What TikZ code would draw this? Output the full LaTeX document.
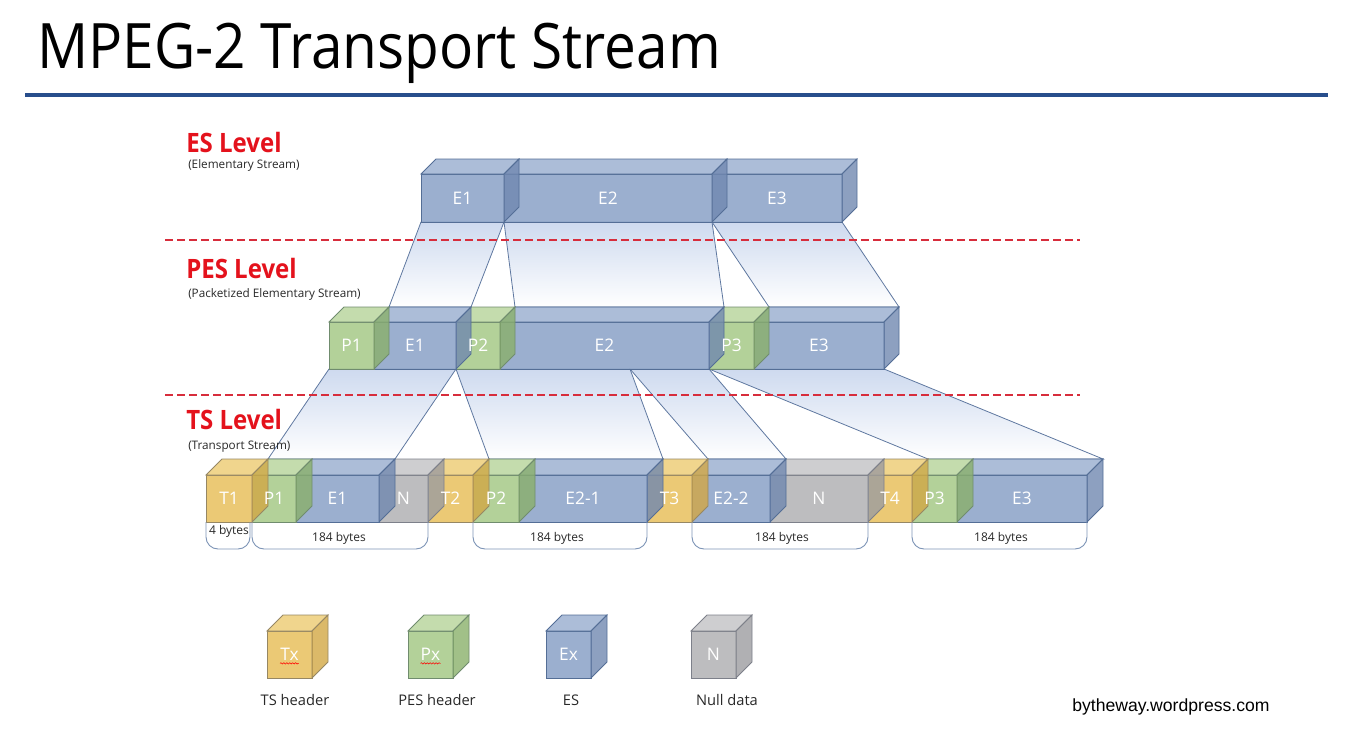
\documentclass[tikz,border=0pt]{standalone}
\usepackage{fontspec}
\setmainfont{Open Sans}
\newfontfamily\arialfont{Liberation Sans}
\usetikzlibrary{calc,decorations.pathmorphing}
\pgfdeclarelayer{bg}
\pgfdeclarelayer{fg}
\pgfsetlayers{bg,main,fg}

\definecolor{blueF}{RGB}{138,162,199}
\definecolor{blueT}{RGB}{158,178,210}
\definecolor{blueS}{RGB}{112,136,176}
\definecolor{blueE}{RGB}{84,110,150}
\definecolor{greenF}{RGB}{166,201,136}
\definecolor{greenT}{RGB}{186,214,160}
\definecolor{greenS}{RGB}{138,176,106}
\definecolor{greenE}{RGB}{112,140,110}
\definecolor{goldF}{RGB}{232,192,94}
\definecolor{goldT}{RGB}{238,206,122}
\definecolor{goldS}{RGB}{210,168,68}
\definecolor{goldE}{RGB}{150,135,100}
\definecolor{grayF}{RGB}{178,178,180}
\definecolor{grayT}{RGB}{198,198,200}
\definecolor{grayS}{RGB}{156,156,160}
\definecolor{grayE}{RGB}{125,128,138}
\definecolor{rulecol}{RGB}{40,78,140}
\definecolor{lvlred}{RGB}{228,18,28}
\definecolor{dashred}{RGB}{215,45,60}
\definecolor{fnTop}{RGB}{206,218,239}
\definecolor{fnMid}{RGB}{186,202,233}
\definecolor{fnEdge}{RGB}{95,120,160}
\definecolor{brkcol}{RGB}{125,148,182}
\definecolor{txtgray}{RGB}{40,40,40}

\tikzset{
  lbl/.style={text=white, font=\fontsize{13}{13}\selectfont, inner sep=1pt},
  funnel/.style={top color=fnTop, middle color=fnMid, bottom color=white, draw=fnEdge, line width=0.6pt},
  dashline/.style={draw=dashred, line width=0.8pt, dash pattern=on 6pt off 3pt},
  brk/.style={draw=brkcol, line width=0.7pt, rounded corners=9pt},
  bytes/.style={text=txtgray, font=\fontsize{9}{9}\selectfont, inner sep=1pt},
  lvl/.style={text=lvlred, font=\bfseries\fontsize{20}{20}\selectfont, anchor=base west, inner sep=0pt},
  sublvl/.style={text=txtgray, font=\fontsize{8.8}{8.8}\selectfont, anchor=base west, inner sep=0pt},
  leg/.style={text=txtgray, font=\fontsize{11}{11}\selectfont, inner sep=1pt},
  squig/.style={draw=red, line width=0.4pt, decorate, decoration={snake, amplitude=0.5pt, segment length=2.2pt}}
}

\newcommand\blk[8]{%
  \coordinate (#1-nw) at (#2,#4);
  \coordinate (#1-ne) at (#3,#4);
  \coordinate (#1-sw) at (#2,#5);
  \coordinate (#1-se) at (#3,#5);
  \coordinate (#1-bnw) at ($(#1-nw)+(#6,-#6)$);
  \coordinate (#1-bne) at ($(#1-ne)+(#6,-#6)$);
  \coordinate (#1-bse) at ($(#1-se)+(#6,-#6)$);
  \filldraw[draw=#7E, fill=#7F, fill opacity=0.86, line width=0.6pt] (#1-nw) rectangle (#1-se);
  \filldraw[draw=#7E, fill=#7T, fill opacity=0.86, line width=0.6pt] (#1-nw) -- (#1-bnw) -- (#1-bne) -- (#1-ne) -- cycle;
  \filldraw[draw=#7E, fill=#7S, fill opacity=0.80, line width=0.6pt] (#1-ne) -- (#1-bne) -- (#1-bse) -- (#1-se) -- cycle;
  \begin{pgfonlayer}{fg}
  \node[lbl] (#1) at ($(#1-nw)!0.5!(#1-se)$) {#8};
  \end{pgfonlayer}
}

\begin{document}
\begin{tikzpicture}[x=0.75pt,y=-0.75pt]
\useasboundingbox (0,0) rectangle (1348,743);

% title and rule
\node[anchor=base west, inner sep=0pt] (title) at (37,68)
  {\fontsize{47}{47}\selectfont\scalebox{0.905}[1]{MPEG-2 Transport Stream}};
\coordinate (ruleA) at (25,95);
\coordinate (ruleB) at (1328,95);
\draw[rulecol, line width=3pt] (ruleA) -- (ruleB);

% level labels
\node[lvl] (esl) at (186,152) {\scalebox{0.9}[1]{ES Level}};
\node[sublvl] (essub) at (188,168) {(Elementary Stream)};
\node[lvl] (pesl) at (186,278) {\scalebox{0.9}[1]{PES Level}};
\node[sublvl] (pessub) at (188,297) {(Packetized Elementary Stream)};
\node[lvl] (tsl) at (186,429) {\scalebox{0.9}[1]{TS Level}};
\node[sublvl] (tssub) at (188,449) {(Transport Stream)};

% ES level (right to left)
\blk{esE3}{712}{842}{174}{222}{15}{blue}{E3}
\blk{esE2}{504}{712}{174}{222}{15}{blue}{E2}
\blk{esE1}{421}{504}{174}{222}{15}{blue}{E1}

% PES level
\blk{pesE3}{754}{884}{322}{369}{15}{blue}{E3}
\blk{pesP3}{709}{754}{322}{369}{15}{green}{P3}
\blk{pesE2}{500}{709}{322}{369}{15}{blue}{E2}
\blk{pesP2}{456}{500}{322}{369}{15}{green}{P2}
\blk{pesE1}{374}{456}{322}{369}{15}{blue}{E1}
\blk{pesP1}{329}{374}{322}{369}{15}{green}{P1}

% TS level
\blk{tsE3}{957}{1087}{475}{522}{16}{blue}{E3}
\blk{tsP3}{912}{957}{475}{522}{16}{green}{P3}
\blk{tsT4}{868}{912}{475}{522}{16}{gold}{T4}
\blk{tsN2}{770}{868}{475}{522}{16}{gray}{N}
\blk{tsE22}{692}{770}{475}{522}{16}{blue}{E2-2}
\blk{tsT3}{647}{692}{475}{522}{16}{gold}{T3}
\blk{tsE21}{519}{647}{475}{522}{16}{blue}{E2-1}
\blk{tsP2}{473}{519}{475}{522}{16}{green}{P2}
\blk{tsT2}{428}{473}{475}{522}{16}{gold}{T2}
\blk{tsN1}{379}{428}{475}{522}{16}{gray}{N}
\blk{tsE1}{296}{379}{475}{522}{16}{blue}{E1}
\blk{tsP1}{252}{296}{475}{522}{16}{green}{P1}
\blk{tsT1}{206}{252}{475}{522}{16}{gold}{T1}

% funnels
\coordinate (split) at (630,369);
\begin{pgfonlayer}{bg}
\shadedraw[funnel] (esE1-sw) -- (esE1-se) -- (pesE1-bne) -- (pesE1-bnw) -- cycle;
\shadedraw[funnel] (esE2-sw) -- (esE2-se) -- (pesE2-bne) -- (pesE2-bnw) -- cycle;
\shadedraw[funnel] (esE3-sw) -- (esE3-se) -- (pesE3-bne) -- (pesE3-bnw) -- cycle;
\shadedraw[funnel] (pesP1-sw) -- (pesE1-se) -- (tsE1-bne) -- (tsP1-bnw) -- cycle;
\shadedraw[funnel] (pesP2-sw) -- (split) -- (tsE21-bne) -- (tsP2-bnw) -- cycle;
\shadedraw[funnel] (split) -- (pesE2-se) -- (tsE22-bne) -- (tsE22-bnw) -- cycle;
\shadedraw[funnel] (pesP3-sw) -- (pesE3-se) -- (tsE3-bne) -- (tsP3-bnw) -- cycle;
\end{pgfonlayer}

% dashed separators
\coordinate (d1a) at (165,240); \coordinate (d1b) at (1080,240);
\coordinate (d2a) at (165,395); \coordinate (d2b) at (1080,395);
\draw[dashline] (d1a) -- (d1b);
\draw[dashline] (d2a) -- (d2b);

% byte brackets
\draw[brk] (tsT1-sw) -- ($(tsT1-sw)+(0,27)$) -- ($(tsT1-se)+(-2,27)$) -- ($(tsT1-se)+(-2,0)$);
\node[bytes] (b4) at (229,531) {4 bytes};
\draw[brk] (tsP1-sw) -- ($(tsP1-sw)+(0,27)$) -- ($(tsN1-se)+(0,27)$) -- (tsN1-se);
\node[bytes] (b184a) at (339,538) {184 bytes};
\draw[brk] (tsP2-sw) -- ($(tsP2-sw)+(0,27)$) -- ($(tsE21-se)+(0,27)$) -- (tsE21-se);
\node[bytes] (b184b) at (557,538) {184 bytes};
\draw[brk] (tsE22-sw) -- ($(tsE22-sw)+(0,27)$) -- ($(tsN2-se)+(0,27)$) -- (tsN2-se);
\node[bytes] (b184c) at (782,538) {184 bytes};
\draw[brk] (tsP3-sw) -- ($(tsP3-sw)+(0,27)$) -- ($(tsE3-se)+(0,27)$) -- (tsE3-se);
\node[bytes] (b184d) at (1001,538) {184 bytes};

% legend
\blk{lgT}{267}{312}{631}{678}{16}{gold}{Tx}
\blk{lgP}{408}{453}{631}{678}{16}{green}{Px}
\blk{lgE}{546}{591}{631}{678}{16}{blue}{Ex}
\blk{lgN}{691}{736}{631}{678}{16}{gray}{N}
\begin{pgfonlayer}{fg}
\draw[squig] ([xshift=1pt,yshift=-2pt]lgT.base west) -- ([xshift=-1pt,yshift=-2pt]lgT.base east);
\draw[squig] ([xshift=1pt,yshift=-2pt]lgP.base west) -- ([xshift=-1pt,yshift=-2pt]lgP.base east);
\end{pgfonlayer}
\node[leg] (lgTl) at (295,700) {TS header};
\node[leg] (lgPl) at (437,700) {PES header};
\node[leg] (lgEl) at (571,700) {ES};
\node[leg] (lgNl) at (727,700) {Null data};

% credit
\node[anchor=base west, inner sep=0pt, font=\arialfont\fontsize{13.2}{13.2}\selectfont] (credit) at (1072,711) {bytheway.wordpress.com};
\end{tikzpicture}
\end{document}
